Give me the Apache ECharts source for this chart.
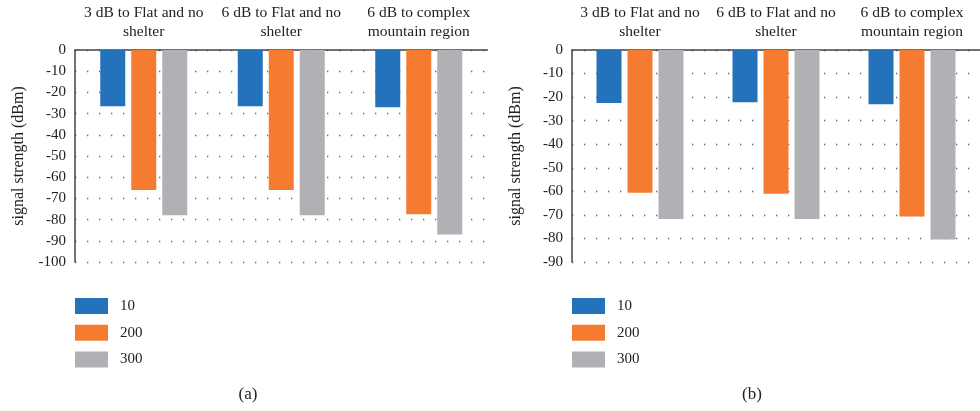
<!DOCTYPE html>
<html><head><meta charset="utf-8">
<script src="https://cdn.jsdelivr.net/npm/echarts@6/dist/echarts.min.js"></script>
<style>html,body{margin:0;padding:0;background:#fff}#c{width:980px;height:411px}</style>
</head><body><div id="c"></div>
<script>
const categories = ["3 dB to Flat and no\nshelter", "6 dB to Flat and no\nshelter", "6 dB to complex\nmountain region"];
const seriesNames = ["10", "200", "300"];
const a10 = [-26.5, -26.5, -27];
const a200 = [-66, -66, -77.5];
const a300 = [-78, -78, -87];
const b10 = [-22.5, -22.2, -23];
const b200 = [-60.6, -61, -70.7];
const b300 = [-71.7, -71.7, -80.5];
const yMinA = -100, yMinB = -90;
const captions = ["(a)", "(b)"];

const colors = ["#2372bb", "#f47b30", "#b0b1b5"];
const FONT = "Liberation Serif";
const chart = echarts.init(document.getElementById('c'));

function xAx(gi) {
  return {
    type: 'category', gridIndex: gi, position: 'top', data: categories,
    axisLine: {show: true, onZero: false, lineStyle: {color: '#444', width: 1.5}},
    axisTick: {show: false},
    axisLabel: {interval: 0, fontFamily: FONT, fontSize: 15.5, color: '#222', lineHeight: 19, margin: 9}
  };
}
function yAx(gi, min) {
  return {
    type: 'value', gridIndex: gi, min: min, max: 0, interval: 10,
    name: 'signal strength (dBm)', nameLocation: 'middle', nameGap: 48,
    nameTextStyle: {fontFamily: FONT, fontSize: 16, color: '#222'},
    axisLine: {show: true, lineStyle: {color: '#444', width: 1.5}},
    axisTick: {show: false},
    axisLabel: {fontFamily: FONT, fontSize: 15, color: '#222', margin: 9},
    splitLine: {show: true, lineStyle: {color: '#666', width: 1.3, type: [1.3, 10.7]}}
  };
}
function bar(name, data, gi, ci) {
  return {
    name: name, type: 'bar', xAxisIndex: gi, yAxisIndex: gi, data: data,
    barWidth: 25, barGap: '24%', itemStyle: {color: colors[ci]}, animation: false
  };
}
function legend(left) {
  return {
    orient: 'vertical', left: left, top: 298, padding: 0, itemWidth: 33, itemHeight: 16, itemGap: 10.7,
    icon: 'rect', data: seriesNames, selectedMode: false,
    textStyle: {fontFamily: FONT, fontSize: 15, color: '#222', padding: [0, 0, 0, 7]}
  };
}
function cap(text, x) {
  return {type: 'text', x: x, y: 395, style: {text: text, fontFamily: FONT, fontSize: 17, fill: '#222', textAlign: 'center', textVerticalAlign: 'middle'}};
}

chart.setOption({
  animation: false,
  grid: [
    {left: 75, top: 50, width: 412.5, height: 212},
    {left: 572, top: 50, width: 417, height: 212}
  ],
  xAxis: [xAx(0), xAx(1)],
  yAxis: [yAx(0, yMinA), yAx(1, yMinB)],
  legend: [legend(75), legend(572)],
  graphic: [cap(captions[0], 248), cap(captions[1], 752)],
  series: [
    bar(seriesNames[0], a10, 0, 0), bar(seriesNames[1], a200, 0, 1), bar(seriesNames[2], a300, 0, 2),
    bar(seriesNames[0], b10, 1, 0), bar(seriesNames[1], b200, 1, 1), bar(seriesNames[2], b300, 1, 2)
  ]
});
</script></body></html>
